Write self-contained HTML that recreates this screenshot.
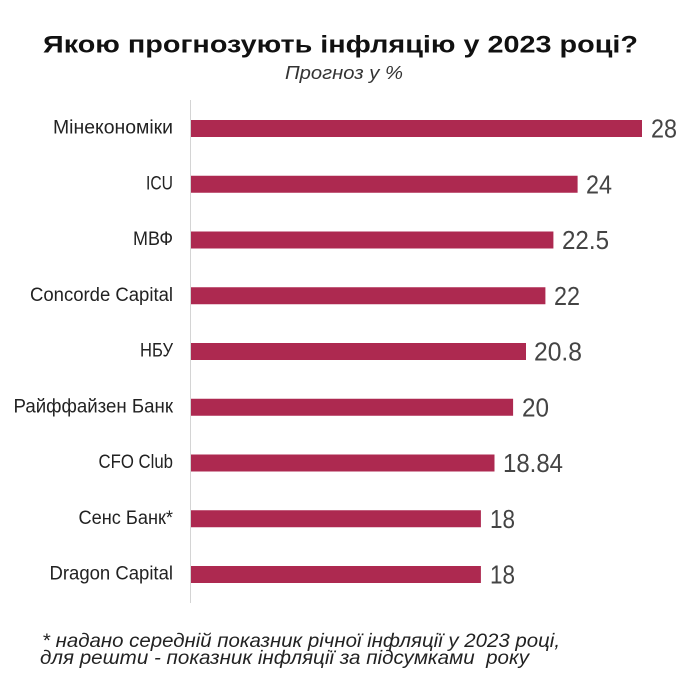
<!DOCTYPE html>
<html>
<head>
<meta charset="utf-8">
<style>
html,body{margin:0;padding:0;background:#fff;}
svg{display:block;}
</style>
</head>
<body>
<svg width="690" height="690" viewBox="0 0 690 690" xmlns="http://www.w3.org/2000/svg">
<rect width="690" height="690" fill="#fff"/>
<text x="43" y="52.5" font-family="Liberation Sans, sans-serif" font-weight="bold" font-size="24.5" fill="#111" textLength="595" lengthAdjust="spacingAndGlyphs">Якою прогнозують інфляцію у 2023 році?</text>
<text x="285" y="79" font-family="Liberation Sans, sans-serif" font-style="italic" font-size="18" fill="#333" textLength="118" lengthAdjust="spacingAndGlyphs">Прогноз у %</text>

<line x1="190.5" y1="100" x2="190.5" y2="603" stroke="#d4d4d4" stroke-width="1"/>

<g fill="#ad2950">
<rect x="191" y="120" width="451" height="17"/>
<rect x="191" y="175.75" width="386.6" height="17"/>
<rect x="191" y="231.5" width="362.4" height="17"/>
<rect x="191" y="287.25" width="354.4" height="17"/>
<rect x="191" y="343" width="335" height="17"/>
<rect x="191" y="398.75" width="322.1" height="17"/>
<rect x="191" y="454.5" width="303.5" height="17"/>
<rect x="191" y="510.25" width="289.9" height="17"/>
<rect x="191" y="566" width="289.9" height="17"/>
</g>

<g font-family="Liberation Sans, sans-serif" font-size="19" fill="#222">
<text x="53" y="133.5" textLength="120" lengthAdjust="spacingAndGlyphs">Мінекономіки</text>
<text x="146" y="189.25" textLength="27" lengthAdjust="spacingAndGlyphs">ICU</text>
<text x="133" y="245" textLength="40" lengthAdjust="spacingAndGlyphs">МВФ</text>
<text x="30" y="300.75" textLength="143" lengthAdjust="spacingAndGlyphs">Concorde Capital</text>
<text x="140" y="356.5" textLength="33" lengthAdjust="spacingAndGlyphs">НБУ</text>
<text x="13.5" y="412.25" textLength="159.5" lengthAdjust="spacingAndGlyphs">Райффайзен Банк</text>
<text x="98.5" y="468" textLength="74.5" lengthAdjust="spacingAndGlyphs">CFO Club</text>
<text x="78.5" y="523.75" textLength="94.5" lengthAdjust="spacingAndGlyphs">Сенс Банк*</text>
<text x="49.5" y="579.5" textLength="123.5" lengthAdjust="spacingAndGlyphs">Dragon Capital</text>
</g>

<g font-family="Liberation Sans, sans-serif" font-size="26" fill="#444">
<text x="651" y="137.5" textLength="26" lengthAdjust="spacingAndGlyphs">28</text>
<text x="586" y="193.25" textLength="26" lengthAdjust="spacingAndGlyphs">24</text>
<text x="562" y="249" textLength="47" lengthAdjust="spacingAndGlyphs">22.5</text>
<text x="554" y="304.75" textLength="26" lengthAdjust="spacingAndGlyphs">22</text>
<text x="534" y="360.5" textLength="48" lengthAdjust="spacingAndGlyphs">20.8</text>
<text x="522" y="416.25" textLength="27" lengthAdjust="spacingAndGlyphs">20</text>
<text x="503" y="472" textLength="60" lengthAdjust="spacingAndGlyphs">18.84</text>
<text x="490" y="527.75" textLength="25" lengthAdjust="spacingAndGlyphs">18</text>
<text x="490" y="583.5" textLength="25" lengthAdjust="spacingAndGlyphs">18</text>
</g>

<g font-family="Liberation Sans, sans-serif" font-style="italic" font-size="19" fill="#222">
<text x="42" y="647" textLength="518" lengthAdjust="spacingAndGlyphs">* надано середній показник річної інфляції у 2023 році,</text>
<text x="40" y="664" textLength="489" lengthAdjust="spacingAndGlyphs">для решти - показник інфляції за підсумками&#160; року</text>
</g>
</svg>
</body>
</html>
